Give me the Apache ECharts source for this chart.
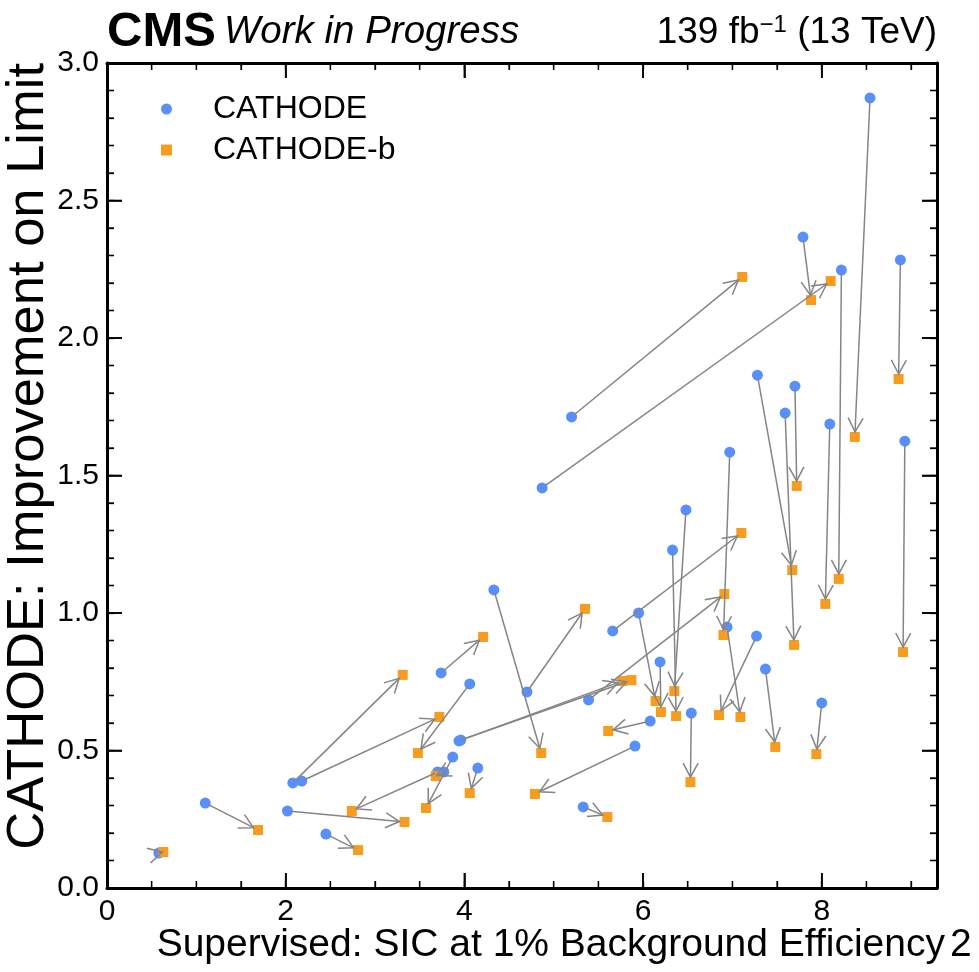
<!DOCTYPE html>
<html>
<head>
<meta charset="utf-8">
<script src="https://cdn.jsdelivr.net/npm/echarts@6/dist/echarts.min.js"></script>
<style>
html,body{margin:0;padding:0;background:#fff;}
#chart{width:979px;height:972px;}
</style>
</head>
<body>
<div id="chart"></div>
<script>
// CATHODE (start points)
const cathodeX = [0.58, 1.10, 2.02, 2.45, 2.08, 2.18, 3.74, 4.06, 4.33, 4.70, 3.96, 3.87, 3.70, 3.77, 4.15,
  5.20, 4.87, 7.79, 8.22, 8.09, 8.54, 8.88, 8.93, 7.28, 7.59, 7.70, 6.97, 6.48, 6.33, 5.95, 5.66,
  6.19, 6.94, 7.27, 5.39, 6.54, 7.37, 8.00, 6.08, 5.91, 5.33, 3.94];
const cathodeY = [0.127, 0.309, 0.280, 0.196, 0.382, 0.389, 0.782, 0.742, 1.084, 0.713, 0.538, 0.476, 0.422, 0.422, 0.436,
  1.713, 1.455, 2.367, 2.247, 1.687, 2.873, 2.284, 1.625, 1.865, 1.727, 1.825, 1.585, 1.375, 1.229, 1.000, 0.935,
  0.822, 0.949, 0.916, 0.684, 0.636, 0.796, 0.673, 0.607, 0.516, 0.295, 0.535];
// CATHODE-b (end points), same order as above
const cathodeBX = [0.63, 1.69, 3.33, 2.81, 3.31, 3.72, 4.21, 3.48, 4.86, 5.35, 5.87, 3.57, 2.74, 3.68, 4.06,
  7.11, 8.10, 7.88, 8.19, 8.04, 8.37, 8.86, 8.91, 7.67, 7.69, 7.72, 6.90, 6.35, 6.37, 6.14, 7.10,
  6.20, 7.09, 6.85, 6.91, 6.53, 7.48, 7.94, 5.61, 4.79, 5.60, 5.77];
const cathodeBY = [0.131, 0.211, 0.240, 0.138, 0.775, 0.622, 0.913, 0.491, 0.491, 1.015, 0.756, 0.291, 0.280, 0.407, 0.345,
  2.222, 2.207, 2.138, 1.124, 1.033, 1.640, 1.851, 0.858, 1.156, 0.884, 1.462, 0.920, 0.716, 0.625, 0.680, 1.291,
  0.640, 0.622, 0.629, 1.069, 0.385, 0.513, 0.487, 0.571, 0.342, 0.258, 0.753];

// tick positions
const xMajorTicks = [0, 2, 4, 6, 8];
const xMinorTicks = [0.5, 1, 1.5, 2.5, 3, 3.5, 4.5, 5, 5.5, 6.5, 7, 7.5, 8.5, 9];
const yMajorTicks = [0, 0.5, 1.0, 1.5, 2.0, 2.5, 3.0];
const yMinorTicks = [0.1, 0.2, 0.3, 0.4, 0.6, 0.7, 0.8, 0.9, 1.1, 1.2, 1.3, 1.4, 1.6, 1.7, 1.8, 1.9,
  2.1, 2.2, 2.3, 2.4, 2.6, 2.7, 2.8, 2.9];
const X_MAX = 9.29, Y_MAX = 3.0;

const FONT = 'Liberation Sans, Arial, sans-serif';
const BLUE = '#5790fc', ORANGE = '#f89c20', ARROW = '#858585';

const chart = echarts.init(document.getElementById('chart'), null, {renderer: 'canvas'});

const tickData = []
  .concat(xMajorTicks.map(v => [v, 0]))
  .concat(xMinorTicks.map(v => [v, 1]))
  .concat(yMajorTicks.map(v => [v, 2]))
  .concat(yMinorTicks.map(v => [v, 3]));

const arrowData = cathodeX.map((x, i) => [x, cathodeY[i], cathodeBX[i], cathodeBY[i]]);

function frameAxis(pos, isX, labels) {
  const a = {
    type: 'value', position: pos, min: 0, max: isX ? X_MAX : Y_MAX, interval: isX ? 2 : 0.5,
    axisLine: {show: true, onZero: false, lineStyle: {color: '#000', width: 3}},
    axisTick: {show: false},
    splitLine: {show: false},
    axisLabel: {show: false}
  };
  if (labels) {
    a.axisLabel = isX ? {
      show: true, fontSize: 30, color: '#000', fontFamily: FONT, margin: 9,
      formatter: v => (Math.abs(v / 2 - Math.round(v / 2)) < 1e-6 ? String(Math.round(v)) : '')
    } : {
      show: true, fontSize: 30, color: '#000', fontFamily: FONT, margin: 8,
      formatter: v => v.toFixed(1)
    };
  }
  return a;
}
// tick-only axis shifted into the plot so that its outward ticks end on the frame
function tickAxis(pos, isX, interval, len) {
  return {
    type: 'value', position: pos, min: 0, max: isX ? X_MAX : Y_MAX, interval: interval,
    offset: -len,
    axisLine: {show: false, onZero: false},
    axisTick: {show: true, inside: false, length: len, lineStyle: {color: '#000', width: len > 10 ? 1.6 : 1.3}},
    axisLabel: {show: false},
    splitLine: {show: false}
  };
}

const option = {
  animation: false,
  backgroundColor: '#fff',
  grid: {left: 107, right: 42, top: 63, bottom: 84, show: false, containLabel: false},
  xAxis: [
    frameAxis('bottom', true, true), frameAxis('top', true, false),
    tickAxis('bottom', true, 2, 15), tickAxis('bottom', true, 0.5, 7),
    tickAxis('top', true, 2, 15), tickAxis('top', true, 0.5, 7)
  ],
  yAxis: [
    frameAxis('left', false, true), frameAxis('right', false, false),
    tickAxis('left', false, 0.5, 15), tickAxis('left', false, 0.1, 7),
    tickAxis('right', false, 0.5, 15), tickAxis('right', false, 0.1, 7)
  ],
  legend: {
    orient: 'vertical', left: 156, top: 88, itemWidth: 11, itemHeight: 11, itemGap: 9,
    textStyle: {fontSize: 32, color: '#000', fontFamily: FONT, padding: [0, 0, 0, 36]},
    data: [{name: 'CATHODE', icon: 'circle'}, {name: 'CATHODE-b', icon: 'rect'}]
  },
  series: [
    {
      name: 'CATHODE', type: 'scatter', symbol: 'circle', symbolSize: 11,
      itemStyle: {color: BLUE, opacity: 1},
      data: cathodeX.map((x, i) => [x, cathodeY[i]]), z: 2
    },
    {
      name: 'CATHODE-b', type: 'scatter', symbol: 'rect', symbolSize: 10,
      itemStyle: {color: ORANGE, opacity: 1},
      data: cathodeBX.map((x, i) => [x, cathodeBY[i]]), z: 3
    },
    {
      type: 'custom', coordinateSystem: 'cartesian2d', z: 4, silent: true, clip: false,
      encode: {x: [0, 2], y: [1, 3]},
      data: arrowData,
      renderItem: function (params, api) {
        const p1 = api.coord([api.value(0), api.value(1)]);
        const p2 = api.coord([api.value(2), api.value(3)]);
        const dx = p2[0] - p1[0], dy = p2[1] - p1[1];
        const L = Math.hypot(dx, dy) || 1;
        const ux = dx / L, uy = dy / L;
        const sA = L > 12 ? 3 : 0, sB = L > 12 ? 5 : 1;
        const s = [p1[0] + ux * sA, p1[1] + uy * sA];
        const e = [p2[0] - ux * sB, p2[1] - uy * sB];
        const hl = 14, hw = 7.5;
        const b = [e[0] - ux * hl, e[1] - uy * hl];
        const w1 = [b[0] - uy * hw, b[1] + ux * hw];
        const w2 = [b[0] + uy * hw, b[1] - ux * hw];
        return {
          type: 'group', children: [
            {type: 'line', shape: {x1: s[0], y1: s[1], x2: e[0], y2: e[1]}, style: {stroke: ARROW, lineWidth: 1.5}},
            {type: 'polyline', shape: {points: [w1, e, w2]}, style: {stroke: ARROW, lineWidth: 1.5, fill: null}}
          ]
        };
      }
    },
    {
      // inward ticks on all four sides, placed through the axis scales
      type: 'custom', coordinateSystem: 'cartesian2d', z: 6, silent: true, clip: false,
      encode: {x: 0, y: 1},
      data: tickData,
      renderItem: function (params, api) {
        const v = Number(api.value(0)), kind = Number(api.value(1));
        const major = (kind === 0 || kind === 2);
        const len = major ? 15 : 7;
        const st = {stroke: '#000', lineWidth: major ? 1.6 : 1.3};
        if (kind < 2) {
          const b = api.coord([v, 0]);
          const t = api.coord([v, Y_MAX]);
          return {type: 'group', children: [
            {type: 'line', shape: {x1: b[0], y1: b[1], x2: b[0], y2: b[1] - len}, style: st},
            {type: 'line', shape: {x1: t[0], y1: t[1], x2: t[0], y2: t[1] + len}, style: st}
          ]};
        }
        const l = api.coord([0, v]);
        const r = api.coord([X_MAX, v]);
        return {type: 'group', children: [
          {type: 'line', shape: {x1: l[0], y1: l[1], x2: l[0] + len, y2: l[1]}, style: st},
          {type: 'line', shape: {x1: r[0], y1: r[1], x2: r[0] - len, y2: r[1]}, style: st}
        ]};
      }
    }
  ],
  graphic: [
    {type: 'text', left: 107, top: 8, style: {text: 'CMS', font: 'bold 49px ' + FONT, fill: '#000'}},
    {type: 'text', left: 224, top: 13, style: {text: 'Work in Progress', font: 'italic 38.5px ' + FONT, fill: '#000'}},
    {type: 'text', right: 42, top: 13, style: {
      text: '{a|139 fb}{s|−1}{a| (13 TeV)}', fill: '#000',
      rich: {a: {fontSize: 37, fontFamily: FONT, fill: '#000', verticalAlign: 'bottom'},
             s: {fontSize: 24, fontFamily: FONT, fill: '#000', verticalAlign: 'top', padding: [0, 0, 14, 0]}}
    }},
    {type: 'text', right: 34, top: 926, style: {text: 'Supervised: SIC at 1% Background Efficiency', font: '39px ' + FONT, fill: '#000'}},
    {type: 'text', left: 950, top: 926, style: {text: '2', font: '39px ' + FONT, fill: '#000'}},
    {type: 'text', x: 29, y: 63, rotation: Math.PI / 2,
      style: {text: 'CATHODE: Improvement on Limit', font: '52.5px ' + FONT, fill: '#000', align: 'right', verticalAlign: 'middle'}}
  ]
};
chart.setOption(option);
</script>
</body>
</html>
